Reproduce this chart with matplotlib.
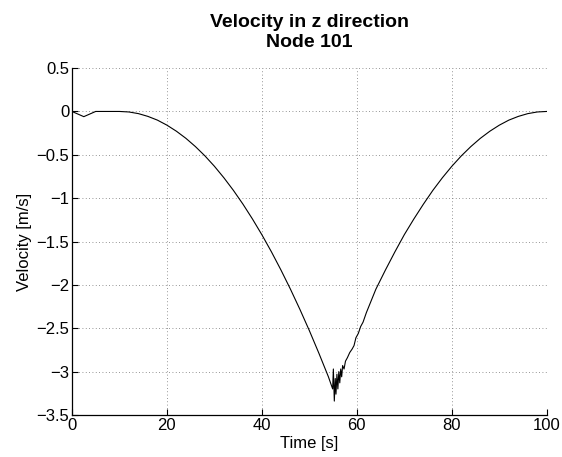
import matplotlib
matplotlib.use("Agg")
import matplotlib.pyplot as plt

# ---- data ----
time_s = [0, 2.5, 5, 7, 10, 12, 14, 16, 18, 20, 22, 24, 26, 28, 30, 32, 34, 36, 38,
          40, 42, 44, 46, 48, 50, 52, 54, 54.9,
          55.05, 55.25, 55.45, 55.6, 55.8, 56.0, 56.2, 56.4, 56.6, 56.8, 57.0, 57.3,
          57.6, 58.0, 58.5, 59.0, 59.4, 59.8, 60.3, 60.8, 61.3, 62,
          64, 66, 68, 70, 72, 74, 76, 78, 80, 82, 84, 86, 88, 90, 92, 94, 96, 98, 100]
velocity = [0, -0.06, 0, 0, 0, -0.006, -0.025, -0.057, -0.10, -0.158, -0.228, -0.31,
            -0.405, -0.512, -0.632, -0.765, -0.91, -1.068, -1.239,
            -1.422, -1.618, -1.827, -2.048, -2.282, -2.528, -2.788, -3.059, -3.20,
            -2.97, -3.34, -3.08, -3.26, -3.03, -3.20, -3.00, -3.13, -2.97, -3.06, -2.93, -2.97,
            -2.88, -2.84, -2.78, -2.74, -2.70, -2.61, -2.56, -2.48, -2.43, -2.32,
            -2.05, -1.83, -1.62, -1.42, -1.24, -1.07, -0.91, -0.765, -0.632, -0.512, -0.405,
            -0.31, -0.228, -0.158, -0.10, -0.057, -0.025, -0.006, 0]

x_ticks = [0, 20, 40, 60, 80, 100]
x_tick_labels = ["0", "20", "40", "60", "80", "100"]
y_ticks = [0.5, 0, -0.5, -1, -1.5, -2, -2.5, -3, -3.5]
y_tick_labels = ["0.5", "0", "\u22120.5", "\u22121", "\u22121.5", "\u22122", "\u22122.5", "\u22123", "\u22123.5"]

title_text = "Velocity in z direction\nNode 101"
x_label = "Time [s]"
y_label = "Velocity [m/s]"

plt.rcParams["font.family"] = ["Liberation Sans", "DejaVu Sans"]

fig = plt.figure(figsize=(5.62, 4.57), dpi=100)
ax = fig.add_axes([0.128, 0.092, 0.845, 0.759])

ax.plot(time_s, velocity, color="black", linewidth=0.8)

ax.set_xlim(0, 100)
ax.set_ylim(-3.5, 0.5)
ax.set_xticks(x_ticks)
ax.set_xticklabels(x_tick_labels)
ax.set_yticks(y_ticks)
ax.set_yticklabels(y_tick_labels)

ax.grid(True, color="0.45", linestyle=(0, (1, 3)), linewidth=0.6)
for s in ["top", "right"]:
    ax.spines[s].set_visible(False)
for s in ["left", "bottom"]:
    ax.spines[s].set_linewidth(0.9)
ax.tick_params(direction="in", length=4, width=0.8, labelsize=12, pad=2)

ax.set_title(title_text, fontsize=14, fontweight="bold", pad=15, linespacing=1.25)
ax.set_xlabel(x_label, fontsize=12, labelpad=2)
ax.set_ylabel(y_label, fontsize=12, labelpad=3)

fig.savefig("out.png", dpi=100)
